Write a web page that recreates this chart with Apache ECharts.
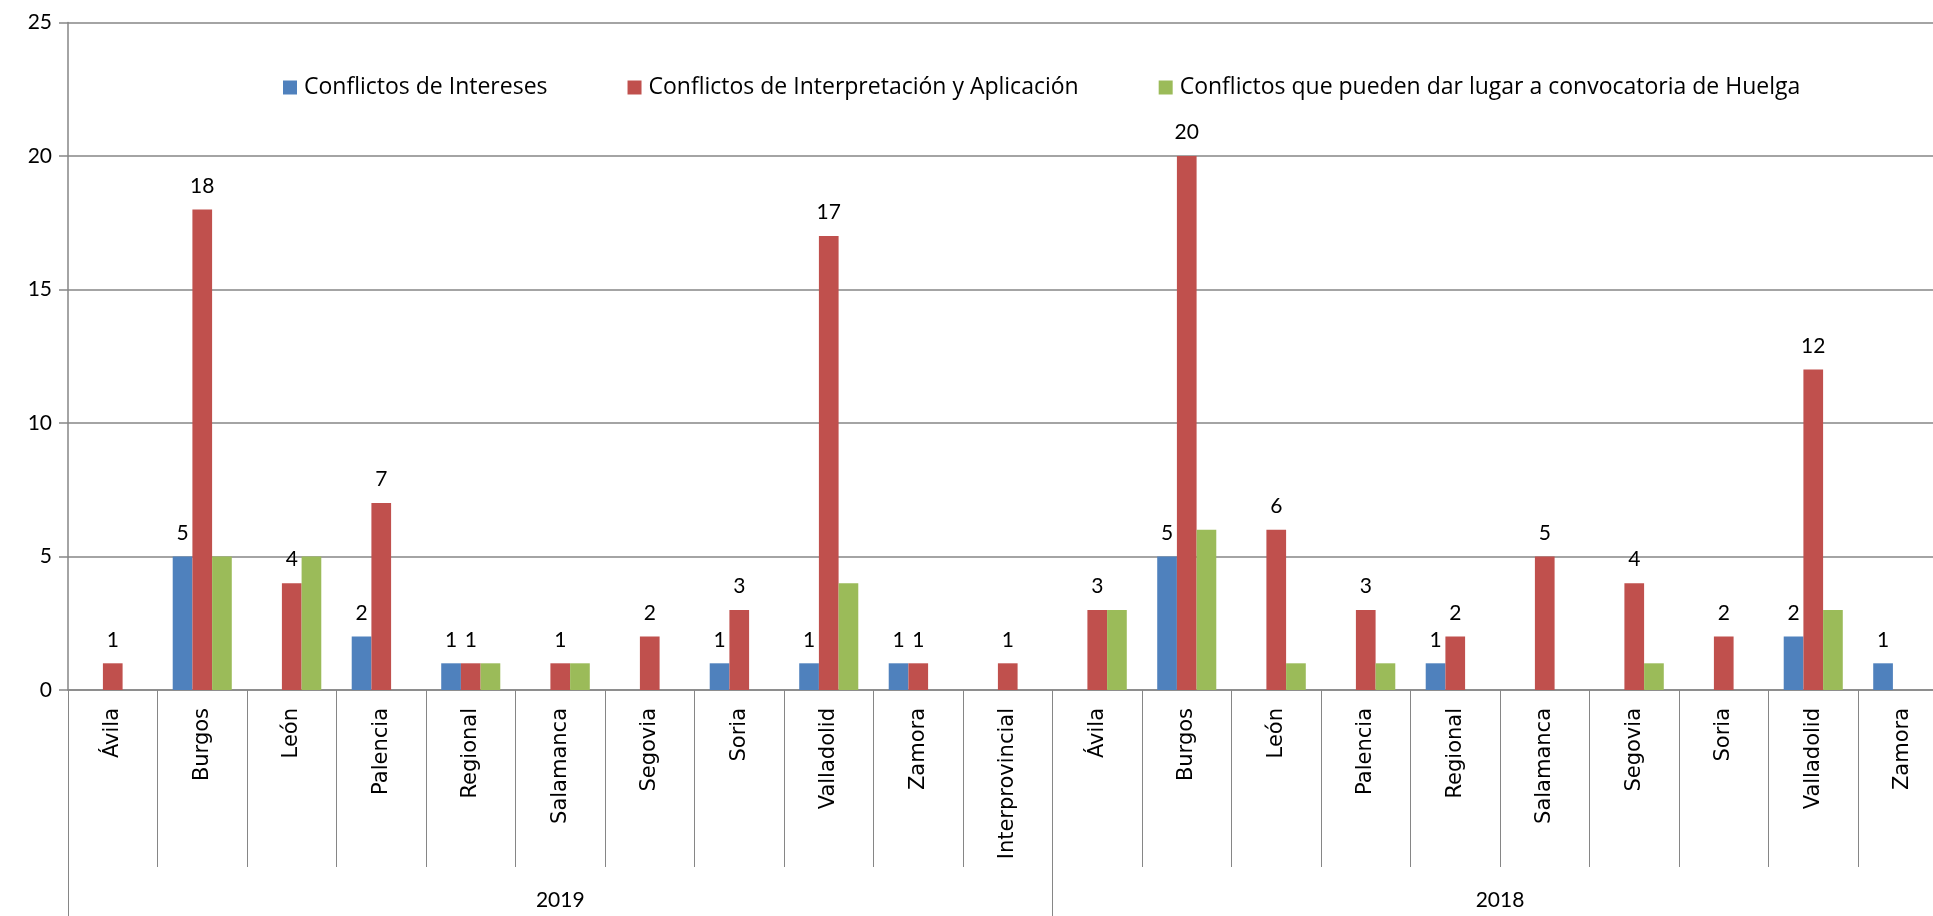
<!DOCTYPE html>
<html>
<head>
<meta charset="utf-8">
<script src="https://cdn.jsdelivr.net/npm/echarts@6/dist/echarts.min.js"></script>
<style>html,body{margin:0;padding:0;background:#fff;overflow:hidden;width:1933px;height:916px;}#c{width:1948px;height:916px;}</style>
</head>
<body>
<div id="c"></div>
<script>
const groups = ['2019', '2018'];
const cats2019 = ['Ávila','Burgos','León','Palencia','Regional','Salamanca','Segovia','Soria','Valladolid','Zamora','Interprovincial'];
const cats2018 = ['Ávila','Burgos','León','Palencia','Regional','Salamanca','Segovia','Soria','Valladolid','Zamora'];
const seriesNames = ['Conflictos de Intereses','Conflictos de Interpretación y Aplicación','Conflictos que pueden dar lugar a convocatoria de Huelga'];
const intereses = [null,5,null,2,1,null,null,1,1,1,null, null,5,null,null,1,null,null,null,2,1];
const interpretacion = [1,18,4,7,1,1,2,3,17,1,1, 3,20,6,3,2,5,4,2,12,null];
const huelga = [null,5,5,null,1,1,null,null,4,null,null, 3,6,1,1,null,null,1,null,3,null];
const yTicks = [0,5,10,15,20,25];

const categories = cats2019.concat(cats2018);
const groupSizes = [cats2019.length, cats2018.length];
const total = categories.length;
const groupBounds = [0, groupSizes[0], total];
const groupCenters = [groupSizes[0] / 2, groupSizes[0] + groupSizes[1] / 2];

const gray = '#868686';
const fontMain = 'Lato, "Open Sans", sans-serif';
const chart = echarts.init(document.getElementById('c'), null, {renderer: 'canvas'});

function barSeries(name, data, color, showLabel) {
  return {
    name: name, type: 'bar', data: data, xAxisIndex: 0,
    barGap: '0%', barCategoryGap: '34%',
    itemStyle: {color: color},
    label: {show: showLabel, position: 'top', distance: 13, color: '#000', fontFamily: fontMain, fontSize: 21},
    animation: false
  };
}

chart.setOption({
  backgroundColor: '#fff',
  animation: false,
  grid: {left: 68, right: 0.5, top: 22.5, bottom: 226, containLabel: false},
  legend: {
    left: 283, top: 76, padding: 0, itemWidth: 14, itemHeight: 14, itemGap: 80, icon: 'rect',
    textStyle: {fontFamily: '"Open Sans", sans-serif', fontSize: 23, color: '#000', padding: [0,0,0,2]},
    data: seriesNames
  },
  xAxis: [
    {
      type: 'category', data: categories, position: 'bottom', boundaryGap: true,
      axisLine: {show: true, lineStyle: {color: gray, width: 1.5}},
      axisTick: {show: true, interval: 0, length: 177, lineStyle: {color: gray, width: 1}},
      axisLabel: {interval: 0, rotate: 90, margin: 18, color: '#000', fontFamily: '"DejaVu Sans", sans-serif', fontSize: 21},
      splitLine: {show: false}
    },
    {
      type: 'value', min: 0, max: total, position: 'bottom',
      axisLine: {show: false},
      axisTick: {show: true, customValues: groupBounds, length: 226, lineStyle: {color: gray, width: 1}},
      axisLabel: {
        show: true, customValues: groupCenters, margin: 200, color: '#000', fontFamily: fontMain, fontSize: 21,
        formatter: function (v) { const i = groupCenters.indexOf(v); return i >= 0 ? groups[i] : ''; }
      },
      splitLine: {show: false}
    }
  ],
  yAxis: {
    type: 'value', min: yTicks[0], max: yTicks[yTicks.length - 1], interval: yTicks[1] - yTicks[0],
    axisLine: {show: true, lineStyle: {color: gray, width: 1.5}},
    axisTick: {show: true, length: 9, lineStyle: {color: gray, width: 1.5}},
    axisLabel: {margin: 16, color: '#000', fontFamily: fontMain, fontSize: 21},
    splitLine: {show: true, lineStyle: {color: gray, width: 1.5}}
  },
  series: [
    barSeries(seriesNames[0], intereses, '#4F81BD', true),
    barSeries(seriesNames[1], interpretacion, '#C0504D', true),
    barSeries(seriesNames[2], huelga, '#9BBB59', false)
  ]
});
</script>
</body>
</html>
